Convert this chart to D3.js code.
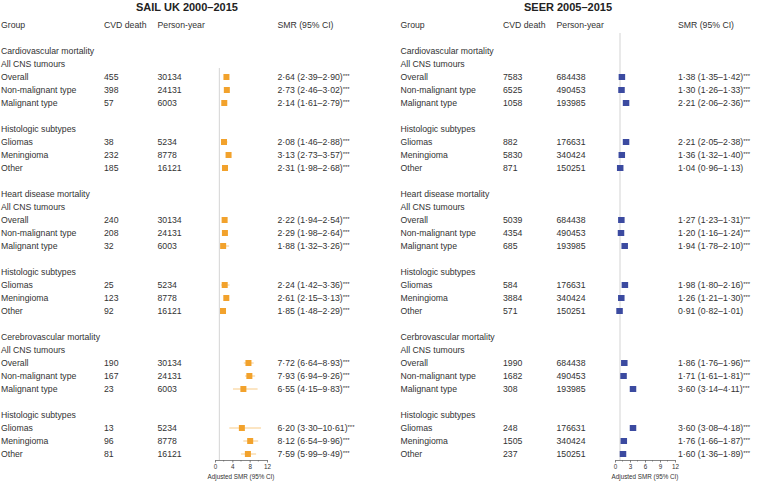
<!DOCTYPE html>
<html><head><meta charset="utf-8">
<script src="https://cdn.jsdelivr.net/npm/d3@7"></script>
<style>
body{margin:0;background:#fff;}
svg{display:block;font-family:"Liberation Sans",Arial,sans-serif;}
</style></head>
<body>
<svg id="c" width="758" height="481"></svg>
<script>
// ---------- data ----------
const sections = ["Cardiovascular mortality","Heart disease mortality","Cerebrovascular mortality"];
const sectionsSEER = ["Cardiovascular mortality","Heart disease mortality","Cerbrovascular mortality"];
const groups = ["Overall","Non-malignant type","Malignant type","Gliomas","Meningioma","Other"];
const headers = ["Group","CVD death","Person-year","SMR (95% CI)"];

const sailDeaths = [455,398,57,38,232,185, 240,208,32,25,123,92, 190,167,23,13,96,81];
const sailPY = [30134,24131,6003,5234,8778,16121, 30134,24131,6003,5234,8778,16121, 30134,24131,6003,5234,8778,16121];
const sailSMR = [2.64,2.73,2.14,2.08,3.13,2.31, 2.22,2.29,1.88,2.24,2.61,1.85, 7.72,7.93,6.55,6.20,8.12,7.59];
const sailLo  = [2.39,2.46,1.61,1.46,2.73,1.98, 1.94,1.98,1.32,1.42,2.15,1.48, 6.64,6.94,4.15,3.30,6.54,5.99];
const sailHi  = [2.90,3.02,2.79,2.88,3.57,2.68, 2.54,2.64,3.26,3.36,3.13,2.29, 8.93,9.26,9.83,10.61,9.96,9.49];
const sailSig = ["***","***","***","***","***","***", "***","***","***","***","***","***", "***","***","***","***","***","***"];

const seerDeaths = [7583,6525,1058,882,5830,871, 5039,4354,685,584,3884,571, 1990,1682,308,248,1505,237];
const seerPY = [684438,490453,193985,176631,340424,150251, 684438,490453,193985,176631,340424,150251, 684438,490453,193985,176631,340424,150251];
const seerSMR = [1.38,1.30,2.21,2.21,1.36,1.04, 1.27,1.20,1.94,1.98,1.26,0.91, 1.86,1.71,3.60,3.60,1.76,1.60];
const seerLo  = [1.35,1.26,2.06,2.05,1.32,0.96, 1.23,1.16,1.78,1.80,1.21,0.82, 1.76,1.61,3.14,3.08,1.66,1.36];
const seerHi  = [1.42,1.33,2.36,2.38,1.40,1.13, 1.31,1.24,2.10,2.16,1.30,1.01, 1.96,1.81,4.11,4.18,1.87,1.89];
const seerSig = ["***","***","***","***","***","", "***","***","***","***","***","", "***","***","***","***","***","***"];

const sailTicks = [0,4,8,12];
const seerTicks = [0,3,6,9,12];
const axisTitle = "Adjusted SMR (95% CI)";

// ---------- layout ----------
const svg = d3.select("#c");
const textCol = "#333";
const fs = 8.7;
const y = d3.scaleLinear().domain([0,33]).range([25,454]);

// build rows: index -> {type,label,dataIndex}
function buildRows(secNames){
  const rows = [];
  secNames.forEach((s,si)=>{
    const base = 2 + si*11;
    rows.push({r:base, label:s});
    rows.push({r:base+1, label:"All CNS tumours"});
    for(let k=0;k<3;k++) rows.push({r:base+2+k, label:groups[k], d:si*6+k});
    rows.push({r:base+6, label:"Histologic subtypes"});
    for(let k=3;k<6;k++) rows.push({r:base+4+k, label:groups[k], d:si*6+k});
  });
  return rows;
}

const fmt = v => d3.format(".2f")(v).replace(".", "·");

function panel(cfg){
  const g = svg.append("g");
  g.append("text").attr("x",cfg.titleX).attr("y",7).attr("dy","0.35em")
    .attr("text-anchor","middle").attr("font-size",11).attr("font-weight","bold")
    .attr("fill","#222").text(cfg.title);
  const cols = cfg.cols;
  headers.forEach((h,i)=>{
    g.append("text").attr("x",cols[i]).attr("y",y(0)).attr("dy","0.35em")
      .attr("font-size",fs).attr("fill",textCol).text(h);
  });
  const x = d3.scaleLinear().domain([0,12]).range(cfg.xRange);
  // reference line at SMR = 1
  g.append("line").attr("x1",x(1)).attr("x2",x(1)).attr("y1",cfg.refTop).attr("y2",460)
    .attr("stroke","#c8c8c8").attr("stroke-width",0.8);
  const rows = buildRows(cfg.sections);
  rows.forEach(row=>{
    const yy = y(row.r);
    g.append("text").attr("x",cols[0]).attr("y",yy).attr("dy","0.35em")
      .attr("font-size",fs).attr("fill",textCol).text(row.label);
    if(row.d===undefined) return;
    const i = row.d;
    g.append("text").attr("x",cols[1]).attr("y",yy).attr("dy","0.35em")
      .attr("font-size",fs).attr("fill",textCol).text(cfg.deaths[i]);
    g.append("text").attr("x",cols[2]).attr("y",yy).attr("dy","0.35em")
      .attr("font-size",fs).attr("fill",textCol).text(cfg.py[i]);
    const t = g.append("text").attr("x",cols[3]).attr("y",yy).attr("dy","0.35em")
      .attr("font-size",fs).attr("fill",textCol);
    t.append("tspan").text(`${fmt(cfg.smr[i])} (${fmt(cfg.lo[i])}–${fmt(cfg.hi[i])})`);
    if(cfg.sig[i]) t.append("tspan").attr("font-size",6).attr("dy","-0.35em").text(cfg.sig[i]);
    // CI
    g.append("line").attr("x1",x(cfg.lo[i])).attr("x2",x(cfg.hi[i])).attr("y1",yy).attr("y2",yy)
      .attr("stroke",cfg.ciColor).attr("stroke-width",1);
    g.append("rect").attr("x",x(cfg.smr[i])-cfg.sq/2).attr("y",yy-cfg.sqh/2)
      .attr("width",cfg.sq).attr("height",cfg.sqh).attr("fill",cfg.color);
  });
  // axis
  const ax = g.append("g").attr("transform","translate(0,460)")
    .call(d3.axisBottom(x).tickValues(cfg.ticks).tickSize(2.5).tickPadding(2).tickSizeOuter(0));
  ax.select(".domain").attr("stroke","#666").attr("stroke-width",0.8);
  ax.selectAll(".tick line").attr("stroke","#666").attr("stroke-width",0.8);
  ax.selectAll(".tick text").attr("font-size",6.3).attr("fill",textCol)
    .attr("font-family","Liberation Sans, Arial, sans-serif");
  // minor ticks
  const minor = d3.pairs(cfg.ticks).map(p=>(p[0]+p[1])/2);
  ax.selectAll(".minor").data(minor).join("line").attr("class","minor")
    .attr("x1",d=>x(d)).attr("x2",d=>x(d)).attr("y1",0).attr("y2",1.5)
    .attr("stroke","#666").attr("stroke-width",0.7);
  g.append("text").attr("x",(cfg.xRange[0]+cfg.xRange[1])/2).attr("y",477).attr("dy","0.35em")
    .attr("text-anchor","middle").attr("font-size",6.3).attr("fill",textCol).text(axisTitle);
}

panel({
  title:"SAIL UK 2000–2015", titleX:187,
  cols:[1,104,157.5,277.5], xRange:[215,267], refTop:68,
  sections:sections, deaths:sailDeaths, py:sailPY, smr:sailSMR, lo:sailLo, hi:sailHi, sig:sailSig,
  color:"#F2A22C", ciColor:"#F8CB87", sq:6, sqh:6, ticks:sailTicks
});
panel({
  title:"SEER 2005–2015", titleX:568,
  cols:[400.5,503,556.5,678], xRange:[615,675], refTop:33,
  sections:sectionsSEER, deaths:seerDeaths, py:seerPY, smr:seerSMR, lo:seerLo, hi:seerHi, sig:seerSig,
  color:"#3B4AA0", ciColor:"#8C95C8", sq:6.5, sqh:6, ticks:seerTicks
});
</script>
</body></html>
